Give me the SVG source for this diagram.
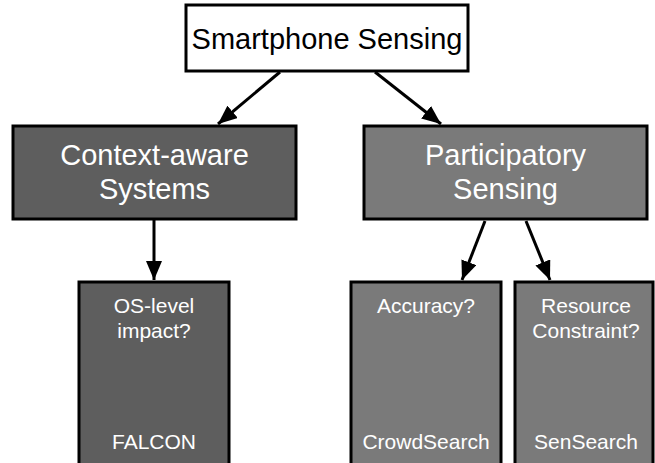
<svg xmlns="http://www.w3.org/2000/svg" width="655" height="463" viewBox="0 0 655 463">
<style>
.box{stroke:#000;stroke-width:3}
.dark{fill:#5e5e5e}
.mid{fill:#7a7a7a}
.t{font-family:"Liberation Sans",Arial,sans-serif;text-anchor:middle}
.big{font-size:29px}
.small{font-size:21px}
.w{fill:#fff}
.edge{stroke:#000;stroke-width:3;fill:none;marker-end:url(#ah)}
</style>
<defs>
<marker id="ah" markerUnits="userSpaceOnUse" markerWidth="20" markerHeight="16" refX="19" refY="8" orient="auto">
<path d="M0,0 L19,8 L0,16 z" fill="#000"/>
</marker>
</defs>
<rect width="655" height="463" fill="#fff"/>
<g id="connectors">
<line class="edge" x1="280" y1="72" x2="218" y2="124"/>
<line class="edge" x1="375" y1="72" x2="441" y2="124"/>
<line class="edge" x1="154" y1="220" x2="154" y2="280"/>
<line class="edge" x1="485" y1="221" x2="462" y2="280"/>
<line class="edge" x1="526" y1="221" x2="550" y2="280"/>
</g>
<g id="smartphone-sensing">
<rect class="box" x="186" y="5" width="282" height="66" fill="#fff"/>
<text class="t big" x="327" y="49">Smartphone Sensing</text>
</g>
<g id="context-aware">
<rect class="box dark" x="13" y="126" width="283" height="93"/>
<text class="t big w" x="154.5" y="165">Context-aware</text>
<text class="t big w" x="154.5" y="199">Systems</text>
</g>
<g id="participatory">
<rect class="box mid" x="364" y="126" width="283" height="93"/>
<text class="t big w" x="505.5" y="165">Participatory</text>
<text class="t big w" x="505.5" y="199">Sensing</text>
</g>
<g id="falcon">
<rect class="box dark" x="79" y="282" width="150" height="190"/>
<text class="t small w" x="154" y="313">OS-level</text>
<text class="t small w" x="154" y="338">impact?</text>
<text class="t small w" x="154" y="449">FALCON</text>
</g>
<g id="crowdsearch">
<rect class="box mid" x="351" y="282" width="150" height="190"/>
<text class="t small w" x="426" y="313">Accuracy?</text>
<text class="t small w" x="426" y="449">CrowdSearch</text>
</g>
<g id="sensearch">
<rect class="box mid" x="515" y="282" width="138" height="190"/>
<text class="t small w" x="586" y="313">Resource</text>
<text class="t small w" x="586" y="338">Constraint?</text>
<text class="t small w" x="586" y="449">SenSearch</text>
</g>
</svg>
